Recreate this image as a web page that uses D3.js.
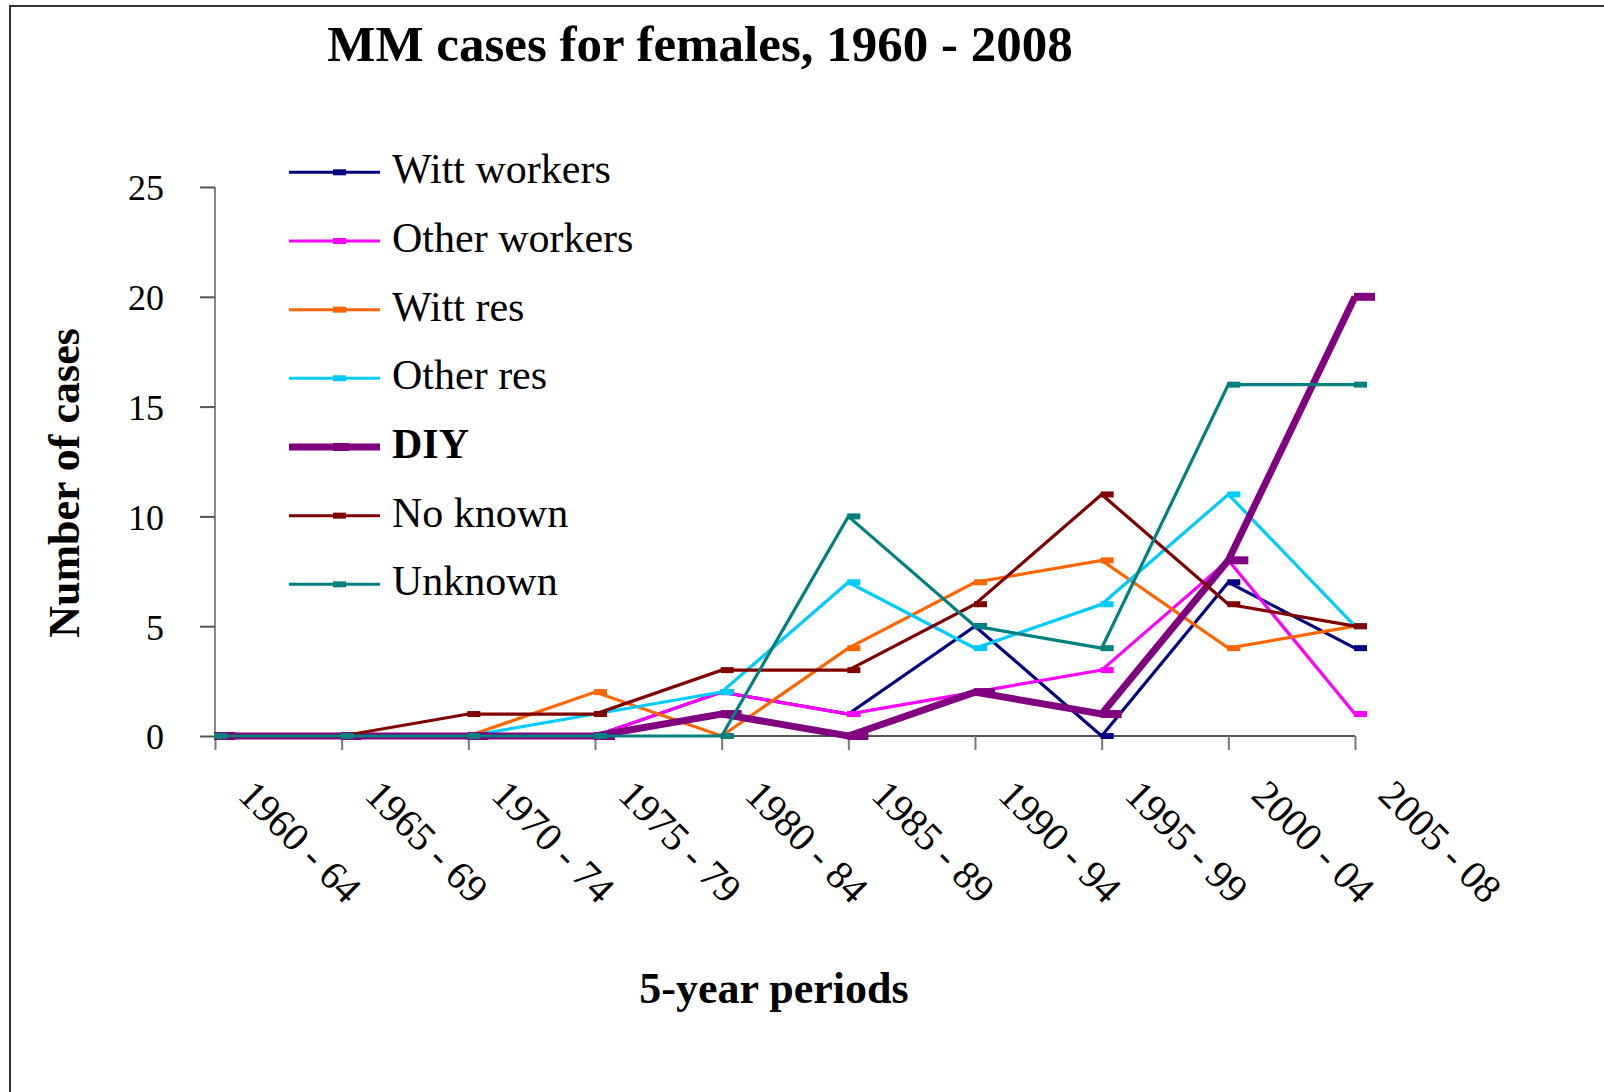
<!DOCTYPE html>
<html><head><meta charset="utf-8">
<script src="https://cdn.jsdelivr.net/npm/d3@7"></script>
<style>html,body{margin:0;padding:0;background:#fff;}svg{display:block;}</style>
</head><body>
<script>
const categories = ["1960 - 64","1965 - 69","1970 - 74","1975 - 79","1980 - 84","1985 - 89","1990 - 94","1995 - 99","2000 - 04","2005 - 08"];
const seriesNames = ["Witt workers","Other workers","Witt res","Other res","DIY","No known","Unknown"];
const wittWorkers  = [0,0,0,0,2,1,5,0,7,4];
const otherWorkers = [0,0,0,0,2,1,2,3,8,1];
const wittRes      = [0,0,0,2,0,4,7,8,4,5];
const otherRes     = [0,0,0,1,2,7,4,6,11,5];
const diy          = [0,0,0,0,1,0,2,1,8,20];
const noKnown      = [0,0,1,1,3,3,6,11,6,5];
const unknown      = [0,0,0,0,0,10,5,4,16,16];
const yTicks = [0,5,10,15,20,25];
const colors = ["#000080","#FF00FF","#FF6600","#00CCFF","#800080","#800000","#008080"];

const seriesValues = [wittWorkers, otherWorkers, wittRes, otherRes, diy, noKnown, unknown];
const series = seriesNames.map((n,i)=>({name:n, values:seriesValues[i], color:colors[i], bold:n==="DIY"}));

const W=1604,H=1092;
const svg=d3.select("body").append("svg").attr("width",W).attr("height",H);
const FONT="'Liberation Serif','Times New Roman',serif";

// border
svg.append("path").attr("d",`M10,${H} L10,6 L${W},6`).attr("fill","none").attr("stroke","#333").attr("stroke-width",2);

const x=d3.scalePoint().domain(categories).range([215,1355]);
const y=d3.scaleLinear().domain([0,25]).range([736,187]);

// title
svg.append("text").attr("x",700).attr("y",61).attr("text-anchor","middle")
  .attr("font-family",FONT).attr("font-weight","bold").attr("font-size",51).text("MM cases for females, 1960 - 2008");

// y axis
const yAxis=d3.axisLeft(y).tickValues(yTicks).tickSize(15).tickPadding(36).tickFormat(d3.format("d"));
const gy=svg.append("g").attr("transform","translate(215,0)").call(yAxis);
gy.select(".domain").attr("stroke","#888").attr("stroke-width",2).attr("d","M0,187V736");
gy.selectAll(".tick line").attr("stroke","#555").attr("stroke-width",2);
gy.selectAll(".tick text").attr("font-family",FONT).attr("font-size",36).attr("fill","#000").attr("dy","0.36em");

// x axis
const xAxis=d3.axisBottom(x).tickSize(14).tickFormat("");
const gx=svg.append("g").attr("transform","translate(0,736)").call(xAxis);
gx.select(".domain").attr("stroke","#555").attr("stroke-width",2).attr("d","M215,0H1355");
gx.selectAll(".tick line").attr("stroke","#777").attr("stroke-width",2);
gx.selectAll(".tick").append("text")
  .attr("transform","translate(21,61) rotate(45)")
  .attr("text-anchor","start").attr("font-family",FONT).attr("font-size",40).attr("fill","#000")
  .text(d=>d);

// axis titles
svg.append("text").attr("transform","translate(79,483) rotate(-90)").attr("text-anchor","middle")
  .attr("font-family",FONT).attr("font-weight","bold").attr("font-size",44).text("Number of cases");
svg.append("text").attr("x",774).attr("y",1003).attr("text-anchor","middle")
  .attr("font-family",FONT).attr("font-weight","bold").attr("font-size",44).text("5-year periods");

// lines
const line=d3.line().x((d,i)=>x(categories[i])).y(d=>y(d));
series.forEach(s=>{
  const g=svg.append("g");
  g.append("path").attr("d",line(s.values)).attr("fill","none").attr("stroke",s.color)
    .attr("stroke-width",s.bold?7:3.2).attr("stroke-linejoin","miter");
  const mw=s.bold?21:13, mh=s.bold?8:6;
  g.selectAll("rect").data(s.values).enter().append("rect")
    .attr("x",(d,i)=>x(categories[i])-1).attr("y",d=>y(d)-mh/2).attr("width",mw).attr("height",mh).attr("fill",s.color);
});

// legend
const lg=svg.append("g");
series.forEach((s,i)=>{
  const ly=172.3+i*68.67;
  lg.append("line").attr("x1",289).attr("x2",380).attr("y1",ly).attr("y2",ly).attr("stroke",s.color).attr("stroke-width",s.bold?7:3);
  const mw=s.bold?16:13, mh=s.bold?8:6;
  lg.append("rect").attr("x",333).attr("y",ly-mh/2).attr("width",mw).attr("height",mh).attr("fill",s.color);
  lg.append("text").attr("x",392).attr("y",ly+11).attr("font-family",FONT).attr("font-size",42)
    .attr("font-weight",s.bold?"bold":"normal").text(s.name);
});
</script>
</body></html>
